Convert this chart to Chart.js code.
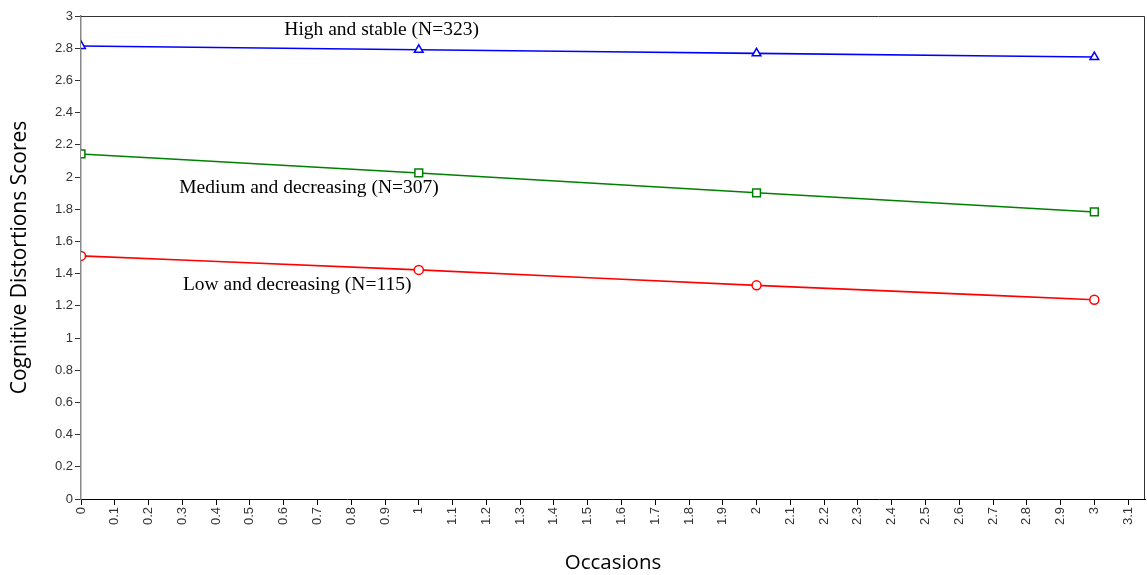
<!DOCTYPE html>
<html lang="en">
<head>
    <meta charset="UTF-8">
    <title>Cognitive Distortions Trajectories</title>
    <script src="https://cdn.jsdelivr.net/npm/chart.js"></script>
    <style>
        html, body { margin: 0; padding: 0; background: #fff; }
        #wrap { width: 1147px; height: 575px; }
    </style>
</head>
<body>
    <div id="wrap"><canvas id="trajChart" width="1147" height="575"></canvas></div>

    <script>
        // occasions and estimated group means
        const occasions = [0, 1, 2, 3];
        const highStable = [2.814, 2.790, 2.768, 2.745];
        const mediumDecreasing = [2.143, 2.025, 1.902, 1.783];
        const lowDecreasing = [1.510, 1.423, 1.327, 1.238];

        const xTicks = [0, 0.1, 0.2, 0.3, 0.4, 0.5, 0.6, 0.7, 0.8, 0.9, 1, 1.1, 1.2, 1.3, 1.4, 1.5,
                        1.6, 1.7, 1.8, 1.9, 2, 2.1, 2.2, 2.3, 2.4, 2.5, 2.6, 2.7, 2.8, 2.9, 3, 3.1];
        const yTicks = [0, 0.2, 0.4, 0.6, 0.8, 1, 1.2, 1.4, 1.6, 1.8, 2, 2.2, 2.4, 2.6, 2.8, 3];

        const groupLabels = ['High and stable (N=323)', 'Medium and decreasing (N=307)', 'Low and decreasing (N=115)'];

        function toPoints(values) {
            return occasions.map((x, i) => ({ x: x, y: values[i] }));
        }

        // text labels placed next to each curve
        const curveLabels = {
            id: 'curveLabels',
            afterDatasetsDraw(chart) {
                const { ctx, scales: { x, y } } = chart;
                const spots = [[0.89, 2.915], [0.675, 1.935], [0.64, 1.33]];
                ctx.save();
                ctx.font = '19.5px "Liberation Serif", serif';
                ctx.fillStyle = '#000';
                ctx.textAlign = 'center';
                ctx.textBaseline = 'middle';
                groupLabels.forEach((t, i) => {
                    ctx.fillText(t, x.getPixelForValue(spots[i][0]), y.getPixelForValue(spots[i][1]));
                });
                ctx.restore();
            }
        };

        // top and right frame lines
        const frame = {
            id: 'frame',
            beforeDatasetsDraw(chart) {
                const a = chart.chartArea;
                const ctx = chart.ctx;
                ctx.save();
                ctx.strokeStyle = '#333';
                ctx.lineWidth = 1;
                ctx.beginPath();
                ctx.moveTo(a.left, a.top + 0.5);
                ctx.lineTo(a.right - 0.5, a.top + 0.5);
                ctx.lineTo(a.right - 0.5, a.bottom);
                ctx.stroke();
                ctx.restore();
            }
        };

        const ctx = document.getElementById('trajChart').getContext('2d');
        new Chart(ctx, {
            type: 'line',
            data: {
                datasets: [{
                    label: groupLabels[0],
                    data: toPoints(highStable),
                    borderColor: '#0000ff',
                    backgroundColor: '#ffffff',
                    pointStyle: 'triangle',
                    pointRadius: 5,
                    pointBorderWidth: 1.5,
                    borderWidth: 1.6,
                    cubicInterpolationMode: 'monotone'
                }, {
                    label: groupLabels[1],
                    data: toPoints(mediumDecreasing),
                    borderColor: '#008000',
                    backgroundColor: '#ffffff',
                    pointStyle: 'rect',
                    pointRadius: 5.5,
                    pointBorderWidth: 1.5,
                    borderWidth: 1.6,
                    cubicInterpolationMode: 'monotone'
                }, {
                    label: groupLabels[2],
                    data: toPoints(lowDecreasing),
                    borderColor: '#ff0000',
                    backgroundColor: '#ffffff',
                    pointStyle: 'circle',
                    pointRadius: 4.5,
                    pointBorderWidth: 1.5,
                    borderWidth: 1.6,
                    cubicInterpolationMode: 'monotone'
                }]
            },
            options: {
                responsive: false,
                animation: false,
                layout: { autoPadding: false, padding: { top: 16, right: 2, left: 7, bottom: 0 } },
                plugins: {
                    legend: { display: false },
                    tooltip: { enabled: false }
                },
                scales: {
                    x: {
                        type: 'linear',
                        min: 0,
                        max: 3.15,
                        afterBuildTicks(scale) {
                            scale.ticks = xTicks.map(v => ({ value: v }));
                        },
                        afterFit(scale) {
                            scale.height = 76;
                            scale.paddingRight = 0;
                            scale.paddingLeft = 0;
                        },
                        border: { color: '#000', width: 1 },
                        grid: { drawOnChartArea: false, tickLength: 6, color: '#000' },
                        ticks: {
                            minRotation: 90,
                            maxRotation: 90,
                            autoSkip: false,
                            padding: 2,
                            color: '#333',
                            font: { family: '"Liberation Sans", Arial, sans-serif', size: 13 },
                            callback: v => String(Math.round(v * 10) / 10)
                        },
                        title: {
                            display: true,
                            text: 'Occasions',
                            color: '#000',
                            font: { family: '"Open Sans", sans-serif', size: 20.5 },
                            padding: { top: 0, bottom: 0 }
                        }
                    },
                    y: {
                        min: 0,
                        max: 3,
                        afterBuildTicks(scale) {
                            scale.ticks = yTicks.map(v => ({ value: v }));
                        },
                        afterFit(scale) {
                            scale.width = 74;
                            scale.paddingTop = 0;
                            scale.paddingBottom = 0;
                        },
                        border: { color: '#888', width: 1.5 },
                        grid: { drawOnChartArea: false, tickLength: 6, color: '#333' },
                        ticks: {
                            padding: 2,
                            color: '#333',
                            font: { family: '"Liberation Sans", Arial, sans-serif', size: 13 },
                            callback: v => String(Math.round(v * 10) / 10)
                        },
                        title: {
                            display: true,
                            text: 'Cognitive Distortions Scores',
                            color: '#000',
                            font: { family: '"Open Sans", sans-serif', size: 21 },
                            padding: { top: 0, bottom: 4 }
                        }
                    }
                }
            },
            plugins: [frame, curveLabels]
        });
    </script>
</body>
</html>
